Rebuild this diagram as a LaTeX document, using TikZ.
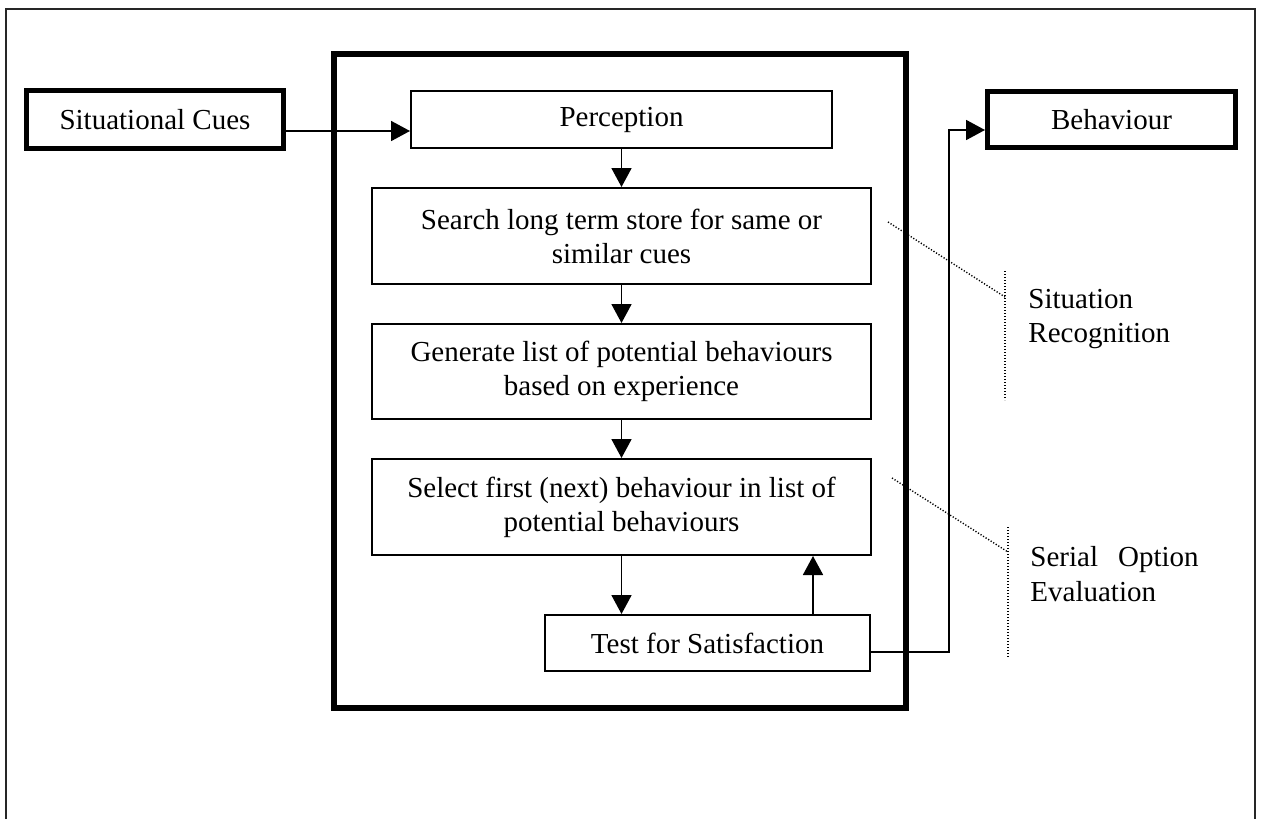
\documentclass[tikz,border=0pt]{standalone}
\usepackage{fontspec}
\setmainfont{Liberation Serif}
\usetikzlibrary{arrows.meta}

\begin{document}
\begin{tikzpicture}[x=0.5pt,y=-0.5pt,
    font=\fontsize{14.5}{17}\selectfont,
    box/.style={draw,line width=1.1pt,inner sep=0pt,align=center},
    heavybox/.style={draw,line width=2.7pt,inner sep=0pt,align=center},
    flow/.style={line width=0.9pt,-{Triangle[length=9.5pt,width=10pt]}},
    note/.style={line width=0.7pt,dash pattern=on 0.6pt off 0.9pt}]
      \useasboundingbox (0,0) rectangle (1263,819);
      \draw[line width=1pt,black!85] (6,819) -- (6,9) -- (1255,9) -- (1255,819);
      \draw[line width=3pt] (334,54) rectangle (906,708);
      \node[heavybox,minimum width=128.3pt,minimum height=28.8pt] (cues) at (155,119.5) {Situational Cues};
      \node[heavybox,minimum width=123.8pt,minimum height=27.8pt] (behav) at (1111.5,119.5) {Behaviour};
      \node[box,minimum width=210.4pt,minimum height=28.4pt] (percep) at (621.5,119.5) {Perception};
      \node[box,minimum width=249.4pt,minimum height=47.9pt] (search) at (621.5,236) {Search long term store for same or\\similar cues};
      \node[box,minimum width=249.4pt,minimum height=47.4pt] (gener) at (621.5,371.5) {Generate list of potential behaviours\\based on experience};
      \node[box,minimum width=249.4pt,minimum height=47.9pt] (select) at (621.5,507) {Select first (next) behaviour in list of\\potential behaviours};
      \node[box,minimum width=162.4pt,minimum height=27.9pt] (test) at (707.5,643) {Test for Satisfaction};
      \coordinate (cuesout) at ([yshift=-5.75pt]cues.east);
      \draw[flow] (cuesout) -- (cuesout -| percep.west);
      \draw[flow] (percep) -- (search);
      \draw[flow] (search) -- (gener);
      \draw[flow] (gener) -- (select);
      \draw[flow] (select.south) -- (select.south |- test.north);
      \coordinate (loop) at ([xshift=52.75pt]test.north);
      \draw[flow] (loop) -- (loop |- select.south);
      \coordinate (turn) at (949,130);
      \draw[flow] ([yshift=-4.5pt]test.east) -| (turn) -- (turn -| behav.west);
      \coordinate (sitbar) at (1005,297);
      \draw[note] (888,222) -- (sitbar);
      \draw[note] (sitbar |- 0,271) -- (sitbar |- 0,400);
      \node[anchor=west,align=left,inner sep=0pt] (sitrec) at (1028,319) {Situation\\Recognition};
      \coordinate (serbar) at (1008,552);
      \draw[note] (892,478) -- (serbar);
      \draw[note] (serbar |- 0,527) -- (serbar |- 0,657);
      \node[anchor=west,align=left,inner sep=0pt,font=\fontsize{14.5}{17.5}\selectfont] (sereval) at (1030,574.5) {Serial\hspace{0.69em}Option\\Evaluation};
    \end{tikzpicture}
\end{document}
